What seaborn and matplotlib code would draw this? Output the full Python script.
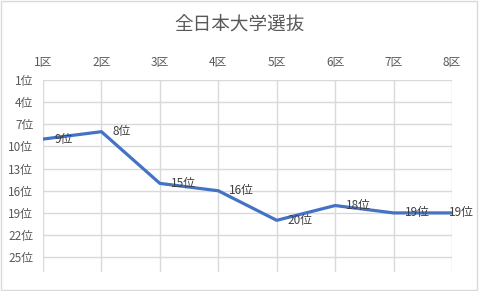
import matplotlib
matplotlib.use("Agg")
import matplotlib.pyplot as plt
import seaborn as sns
import pandas as pd
from matplotlib.patches import Rectangle

sections = ["1区", "2区", "3区", "4区", "5区", "6区", "7区", "8区"]
ranks = [9, 8, 15, 16, 20, 18, 19, 19]
rank_ticks = [1, 4, 7, 10, 13, 16, 19, 22, 25]
rank_labels = [f"{r}位" for r in rank_ticks]
title = "全日本大学選抜"

sns.set_style("white")
plt.rcParams['font.family'] = ['Noto Sans CJK JP', 'DejaVu Sans']

df = pd.DataFrame({"pos": range(len(sections)), "rank": ranks})

fig = plt.figure(figsize=(4.79, 2.91), dpi=100)
ax = fig.add_axes([43/479, 1 - 272/291, (452-43)/479, (272-80)/291])

sns.lineplot(data=df, x="pos", y="rank", ax=ax, color="#4472C4", linewidth=2.3, zorder=3)

ax.set_xlim(0, len(sections) - 1)
ax.set_ylim(27, 1)
ax.set_yticks(rank_ticks)
ax.set_yticklabels(rank_labels)
ax.set_xticks(range(len(sections)))
ax.set_xticklabels(sections)
ax.xaxis.tick_top()
ax.tick_params(axis="both", length=0, labelsize=8.5, colors="#595959")
ax.tick_params(axis="y", pad=7)
ax.tick_params(axis="x", pad=8)
ax.set_xlabel("")
ax.set_ylabel("")
ax.grid(True, color="#D9D9D9", linewidth=1)
for s in ax.spines.values():
    s.set_visible(False)

n = len(ranks)
for i, r in enumerate(ranks):
    dx = 8 if i < n - 1 else -2
    ax.annotate(f"{r}位", (i, r), xytext=(dx, 0), textcoords="offset points",
                ha="left", va="center", fontsize=8.5, color="#404040", zorder=4)

fig.text(0.5, 1 - 25/291, title, ha="center", va="center", fontsize=13.4, color="#595959")

fig.patches.append(Rectangle((0.002, 0.004), 0.993, 0.992, transform=fig.transFigure,
                             fill=False, edgecolor="#D9D9D9", linewidth=1))

fig.savefig("out.png", dpi=100)
